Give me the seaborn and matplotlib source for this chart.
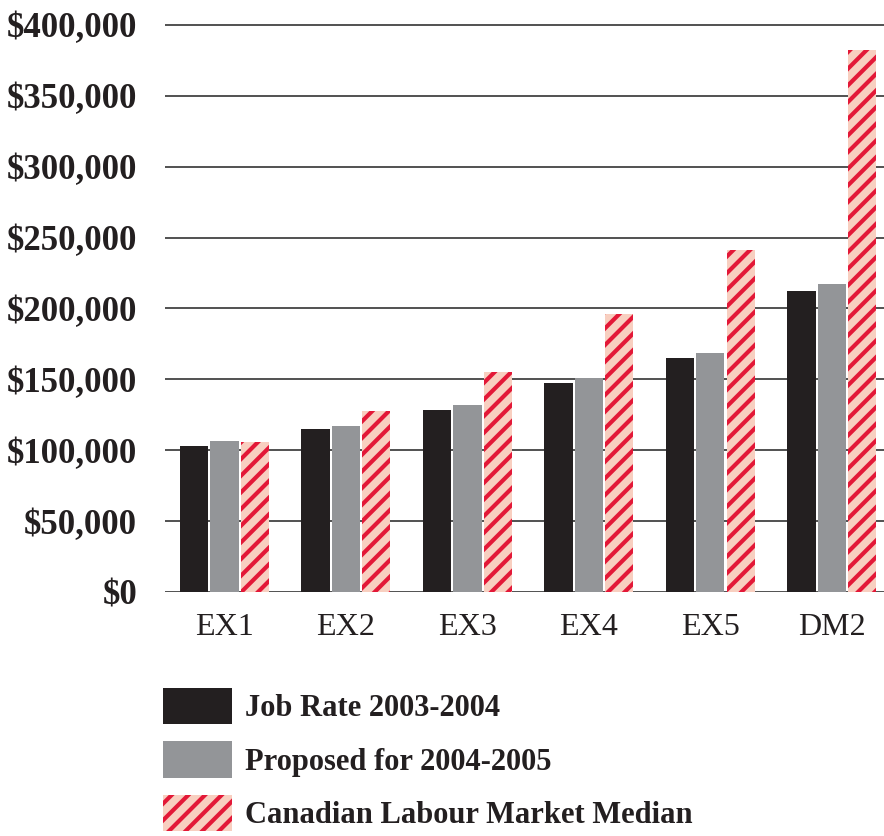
import matplotlib
matplotlib.use("Agg")
import matplotlib.pyplot as plt
import seaborn as sns
import pandas as pd
from matplotlib.patches import Patch
from matplotlib.ticker import FuncFormatter

categories = ["EX1", "EX2", "EX3", "EX4", "EX5", "DM2"]
series_names = ["Job Rate 2003-2004", "Proposed for 2004-2005", "Canadian Labour Market Median"]
job_rate = [103000, 114800, 128100, 147100, 165400, 212400]
proposed = [106300, 116900, 131600, 151300, 168900, 217400]
market_median = [106000, 127400, 155500, 196300, 241300, 382000]
y_ticks = [0, 50000, 100000, 150000, 200000, 250000, 300000, 350000, 400000]

BLACK = "#231F20"
GRAY = "#939598"
RED = "#E31837"
PINK = "#F8CFC0"

rows = []
for name, vals in zip(series_names, [job_rate, proposed, market_median]):
    for c, v in zip(categories, vals):
        rows.append({"category": c, "series": name, "value": v})
df = pd.DataFrame(rows)

sns.set_theme(style="white")
plt.rcParams["font.family"] = ["Liberation Serif", "DejaVu Serif"]
plt.rcParams["hatch.linewidth"] = 3.0

fig = plt.figure(figsize=(8.84, 8.36), dpi=100)
ax = fig.add_axes([165 / 884, 1 - 592 / 836, 1 - 165 / 884, (592 - 23.5) / 836])

palette = {series_names[0]: BLACK, series_names[1]: GRAY, series_names[2]: PINK}
sns.barplot(data=df, x="category", y="value", hue="series", order=categories,
            hue_order=series_names, palette=palette, width=0.75, gap=0.07,
            saturation=1, ax=ax, legend=False, errorbar=None, zorder=3)

n = len(categories)
for i, bar in enumerate(ax.patches):
    if i >= 2 * n:
        bar.set_hatch("//")
        bar.set_edgecolor(RED)
    bar.set_linewidth(0)

ax.set_ylim(0, 401000)
ax.set_xlim(-0.49, 5.43)
ax.set_yticks(y_ticks)
ax.yaxis.set_major_formatter(FuncFormatter(lambda v, p: f"${int(v):,}"))
ax.grid(axis="y", color="#333333", linewidth=1.2, zorder=0)
ax.set_axisbelow(True)
for s in ax.spines.values():
    s.set_visible(False)
ax.tick_params(axis="y", length=0, pad=20, labelsize=25, labelcolor=BLACK)
ax.tick_params(axis="x", length=0, pad=15, labelsize=23, labelcolor=BLACK)
for t in ax.get_yticklabels():
    t.set_fontweight("bold")
ax.set_xlabel("")
ax.set_ylabel("")

handles = [Patch(facecolor=BLACK, linewidth=0),
           Patch(facecolor=GRAY, linewidth=0),
           Patch(facecolor=PINK, edgecolor=RED, hatch="//", linewidth=0)]
fig.legend(handles, series_names, loc="upper left",
           bbox_to_anchor=(163 / 884, 1 - 688 / 836), frameon=False,
           prop={"size": 22, "weight": "bold"}, handlelength=2.25,
           handleheight=1.45, labelspacing=0.56, handletextpad=0.42,
           labelcolor=BLACK, borderaxespad=0, borderpad=0)

fig.savefig("out.png", dpi=100)
